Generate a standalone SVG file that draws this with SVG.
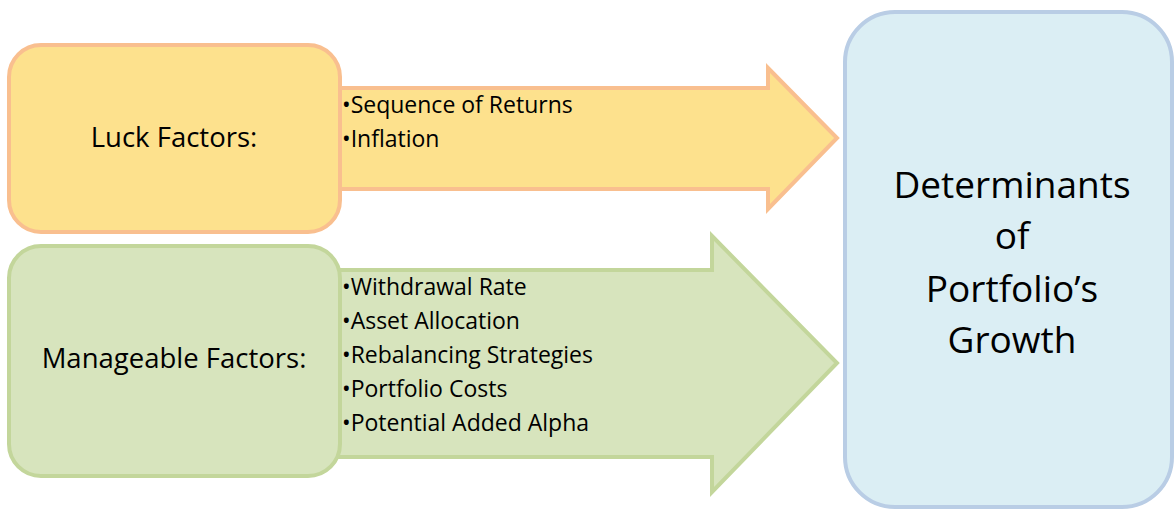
<svg xmlns="http://www.w3.org/2000/svg" width="1175" height="510" viewBox="0 0 1175 510">
<style>
.t{font-family:"Open Sans","Liberation Sans",sans-serif;fill:#000}
.lbl{font-size:27.5px;text-anchor:middle}
.bul{font-size:23px}
.big{font-size:37px;text-anchor:middle}
.yel{fill:#FDE18D;stroke:#F9BF8F;stroke-width:4}
.grn{fill:#D7E4BD;stroke:#C3D69B;stroke-width:4}
.blu{fill:#DBEEF4;stroke:#B9CDE5;stroke-width:4}
</style>
<rect width="1175" height="510" fill="#fff"/>
<g id="connectors">
<path class="yel" d="M330,88 H768 V68 L837,138 L768,209 V189 H330 Z"/>
<path class="grn" d="M330,270 H712 V236 L837,363 L712,492 V457 H330 Z"/>
</g>
<g id="luck">
<rect class="yel" x="9" y="45" width="331" height="187" rx="32"/>
<text class="t lbl" x="174" y="147">Luck Factors:</text>
<text class="t bul" x="342" y="113">•Sequence of Returns</text>
<text class="t bul" x="342" y="147">•Inflation</text>
</g>
<g id="manageable">
<rect class="grn" x="9" y="246" width="331" height="230" rx="32"/>
<text class="t lbl" x="174" y="368">Manageable Factors:</text>
<text class="t bul" x="342" y="295">•Withdrawal Rate</text>
<text class="t bul" x="342" y="329">•Asset Allocation</text>
<text class="t bul" x="342" y="363">•Rebalancing Strategies</text>
<text class="t bul" x="342" y="397">•Portfolio Costs</text>
<text class="t bul" x="342" y="431">•Potential Added Alpha</text>
</g>
<g id="determinants">
<rect class="blu" x="845" y="12" width="327" height="495" rx="50"/>
<text class="t big" x="1012" y="198">Determinants</text>
<text class="t big" x="1012" y="249">of</text>
<text class="t big" x="1012" y="302">Portfolio’s</text>
<text class="t big" x="1012" y="353">Growth</text>
</g>
</svg>
